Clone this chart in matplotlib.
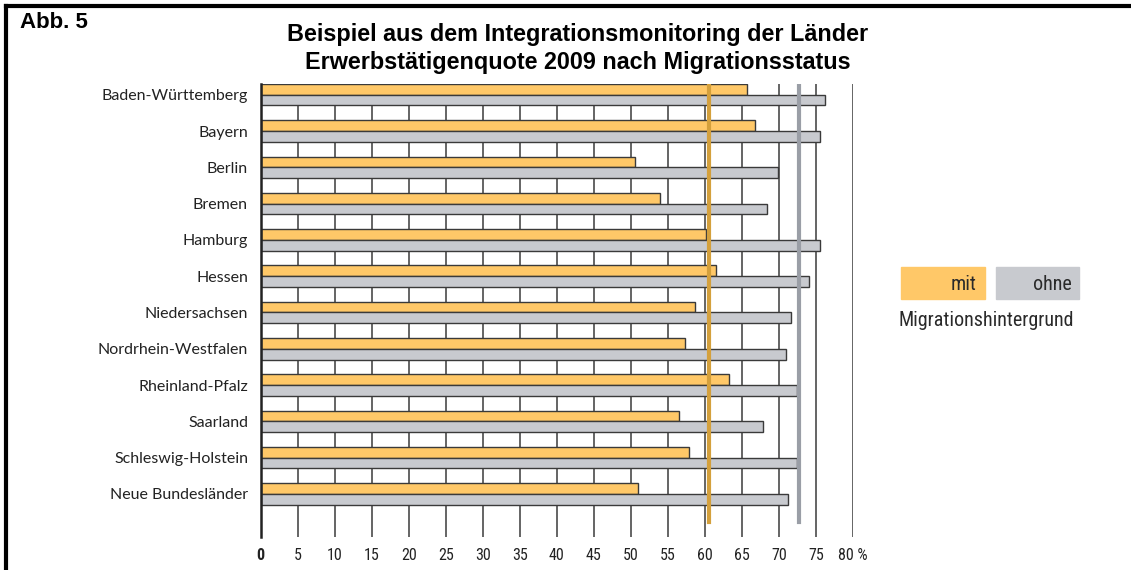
import matplotlib.pyplot as plt
from matplotlib.lines import Line2D
from matplotlib.patches import Rectangle
import numpy as np

# Erwerbstätigenquote 2009 nach Migrationsstatus
laender = ["Baden-Württemberg", "Bayern", "Berlin", "Bremen", "Hamburg", "Hessen",
           "Niedersachsen", "Nordrhein-Westfalen", "Rheinland-Pfalz", "Saarland",
           "Schleswig-Holstein", "Neue Bundesländer"]
mit = [65.7, 66.8, 50.6, 53.9, 60.1, 61.5, 58.7, 57.3, 63.2, 56.5, 57.9, 51.0]
ohne = [76.2, 75.5, 69.9, 68.4, 75.6, 74.1, 71.6, 70.9, 72.5, 67.9, 72.4, 71.2]
schnitt_mit = 60.5
schnitt_ohne = 72.7
ticks = [0, 5, 10, 15, 20, 25, 30, 35, 40, 45, 50, 55, 60, 65, 70, 75, 80]
tick_labels = [str(t) for t in ticks[:-1]] + ["80 %"]

c_mit = "#FFC868"
c_ohne = "#C8CACF"
c_edge = "#3a3a3a"
cond = ["Roboto Condensed", "Liberation Sans Narrow", "Lato", "DejaVu Sans"]

fig = plt.figure(figsize=(11.31, 5.70), dpi=100)
ax = fig.add_axes([260.5 / 1131, 33 / 570, 592.5 / 1131, 453 / 570])

y = np.arange(len(laender))
h = 0.295
# Gitterlinien zuerst, Balken darüber
for t in ticks[1:]:
    ax.axvline(t, color="#4a4a4a", lw=1.2, zorder=1)
ax.barh(y + h / 2, mit, height=h, color=c_mit, edgecolor=c_edge, lw=1, zorder=2)
ax.barh(y + 1.5 * h, ohne, height=h, color=c_ohne, edgecolor=c_edge, lw=1, zorder=2)

# Durchschnittslinien
ax.axvline(schnitt_mit, ymin=0.033, ymax=1.0, color="#D4A03C", lw=3, zorder=3)
ax.axvline(schnitt_ohne, ymin=0.033, ymax=1.0, color="#9A9EA6", lw=3, zorder=3)

ax.set_xlim(0, 80)
ax.set_ylim(12.48, 0)
ax.set_yticks(y + h)
ax.set_yticklabels(laender, fontsize=11.5, family=["Lato", "DejaVu Sans"], color="#222222")
ax.set_xticks(ticks)
ax.set_xticklabels(tick_labels, fontsize=11.5, family=cond, color="#222222")
ax.get_xticklabels()[0].set_fontweight("bold")
ax.tick_params(axis="both", length=0)
ax.tick_params(axis="x", pad=8)
ax.tick_params(axis="y", pad=9)
for s in ["top", "right", "bottom"]:
    ax.spines[s].set_visible(False)
ax.spines["left"].set_color("#222222")
ax.spines["left"].set_linewidth(1.8)

# Titel
fig.text(20 / 1131, 1 - 22 / 570, "Abb. 5", fontsize=16, fontweight="bold",
         family="Liberation Sans", va="center", ha="left")
fig.text(578 / 1131, 1 - 35 / 570, "Beispiel aus dem Integrationsmonitoring der Länder",
         fontsize=16.8, fontweight="bold", family="Liberation Sans", ha="center", va="center")
fig.text(578 / 1131, 1 - 62 / 570, "Erwerbstätigenquote 2009 nach Migrationsstatus",
         fontsize=16.8, fontweight="bold", family="Liberation Sans", ha="center", va="center")

# Legende
fig.patches.append(Rectangle((901 / 1131, 1 - 299 / 570), 84 / 1131, 32 / 570,
                             transform=fig.transFigure, color=c_mit))
fig.patches.append(Rectangle((996 / 1131, 1 - 299 / 570), 83 / 1131, 32 / 570,
                             transform=fig.transFigure, color=c_ohne))
fig.text(976 / 1131, 1 - 284 / 570, "mit", fontsize=14.5, family=cond, color="#2a2a2a",
         ha="right", va="center")
fig.text(1072 / 1131, 1 - 284 / 570, "ohne", fontsize=14.5, family=cond, color="#2a2a2a",
         ha="right", va="center")
fig.text(899 / 1131, 1 - 320 / 570, "Migrationshintergrund", fontsize=14.5, family=cond,
         color="#2a2a2a", ha="left", va="center")

# Rahmen (oben und links)
fig.lines.append(Line2D([6 / 1131, 6 / 1131], [0, 1 - 6 / 570], transform=fig.transFigure,
                        color="black", lw=3))
fig.lines.append(Line2D([6 / 1131, 1], [1 - 6 / 570, 1 - 6 / 570], transform=fig.transFigure,
                        color="black", lw=3))

fig.savefig("out.png", dpi=100)
